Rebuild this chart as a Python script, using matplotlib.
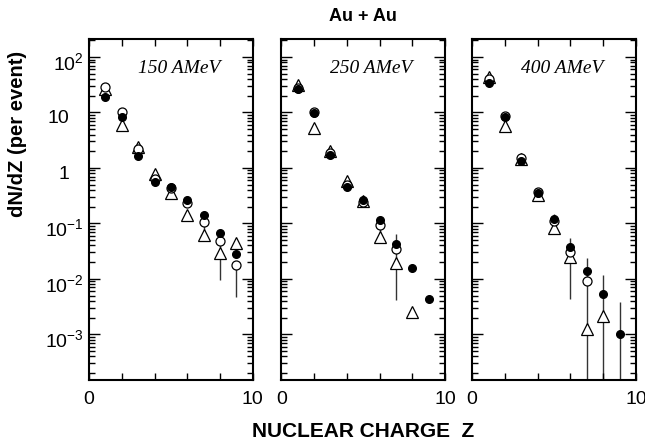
import math
import matplotlib.pyplot as plt
from matplotlib.ticker import FixedLocator, NullFormatter, FuncFormatter
from matplotlib.transforms import ScaledTranslation

plt.rcParams['mathtext.fontset'] = 'custom'
plt.rcParams['mathtext.rm'] = 'Liberation Sans'
plt.rcParams['mathtext.it'] = 'Liberation Sans:italic'
plt.rcParams['mathtext.bf'] = 'Liberation Sans:bold'

# nuclear charge
z = [1, 2, 3, 4, 5, 6, 7, 8, 9]

# 150 AMeV
full_150 = [19, 8.2, 1.65, 0.55, 0.46, 0.265, 0.142, 0.068, 0.028]
open_150 = [29, 10.3, 2.2, 0.62, 0.44, 0.237, 0.108, 0.049, 0.018]
tri_150 = [26, 6.0, 2.36, 0.78, 0.35, 0.142, 0.062, 0.029, 0.045]
bar_150 = [(7, 0.062, 0.108), (8, 0.0095, 0.075), (9, 0.0048, 0.018)]

# 250 AMeV
full_250 = [26, 9.7, 1.7, 0.46, 0.26, 0.116, 0.043, 0.016, 0.0044]
open_250 = [28, 10.0, 1.85, 0.50, 0.24, 0.094, 0.034]
tri_250 = [31, 5.3, 2.0, 0.59, 0.25, 0.057, 0.019, 0.0025]
bar_250 = [(6, 0.057, 0.12), (7, 0.0041, 0.064)]

# 400 AMeV
full_400 = [33.6, 8.2, 1.36, 0.35, 0.119, 0.038, 0.014, 0.0054, 0.001]
open_400 = [40, 8.5, 1.5, 0.37, 0.11, 0.030, 0.0093]
tri_400 = [44, 5.6, 1.45, 0.32, 0.082, 0.025, 0.00126, 0.0021]
bar_400 = [(5, 0.082, 0.15), (6, 0.0044, 0.055), (7, 1e-5, 0.024),
           (8, 1e-5, 0.0117), (9, 1e-5, 0.0038)]

labels = ["150 AMeV", "250 AMeV", "400 AMeV"]
panels = [(full_150, open_150, tri_150, bar_150),
          (full_250, open_250, tri_250, bar_250),
          (full_400, open_400, tri_400, bar_400)]

ymin, ymax = 1.5e-4, 210
decades = [1e-3, 1e-2, 1e-1, 1, 10, 100]
minors = [m * d for d in [1e-4, 1e-3, 1e-2, 1e-1, 1, 10, 100] for m in range(2, 10)]
minors = [m for m in minors if ymin < m < ymax]

fig = plt.figure(figsize=(6.45, 4.45), dpi=100)
lefts = [0.138, 0.436, 0.732]
sans = ["Liberation Sans", "DejaVu Sans"]


def fmt_y(v, pos):
	if abs(v - 1) < 1e-9:
		return "1"
	if abs(v - 10) < 1e-9:
		return "10"
	e = int(round(math.log10(v)))
	return r"$\mathregular{10^{%d}}$" % e


for i, (full, opn, tri, bars) in enumerate(panels):
	ax = fig.add_axes([lefts[i], 0.146, 0.254, 0.766])
	for zz, lo, hi in bars:
		ax.vlines(zz, max(lo, ymin), hi, color="#333333", lw=1.0, zorder=1)
	ax.plot(z[:len(tri)], tri, ls="none", marker="^", ms=8, mfc="white",
			mec="black", mew=0.9, zorder=2)
	ax.plot(z[:len(opn)], opn, ls="none", marker="o", ms=6.5, mfc="white",
			mec="black", mew=0.9, zorder=3)
	ax.plot(z[:len(full)], full, ls="none", marker="o", ms=5.5, mfc="black",
			mec="black", zorder=4)
	ax.set_yscale("log")
	ax.set_xlim(0, 10)
	ax.set_ylim(ymin, ymax)
	ax.xaxis.set_major_locator(FixedLocator([0, 2, 4, 6, 8, 10]))
	ax.xaxis.set_major_formatter(FuncFormatter(lambda v, p: "%d" % v if v in (0, 10) else ""))
	ax.yaxis.set_major_locator(FixedLocator(decades))
	ax.yaxis.set_minor_locator(FixedLocator(minors))
	ax.yaxis.set_minor_formatter(NullFormatter())
	if i == 0:
		ax.yaxis.set_major_formatter(FuncFormatter(fmt_y))
	else:
		ax.yaxis.set_major_formatter(NullFormatter())
	ax.tick_params(which="both", direction="in", top=True, right=True, width=1.0)
	ax.tick_params(which="major", length=8, labelsize=14)
	ax.tick_params(which="minor", length=4.5)
	ax.tick_params(axis="x", which="major", length=5, pad=8)
	ax.tick_params(axis="y", which="major", pad=4)
	for lab in ax.get_xticklabels() + ax.get_yticklabels():
		lab.set_family(sans)
	for s in ax.spines.values():
		s.set_linewidth(1.5)
	if i == 0:
		# 1 and 10 line up with the base of the powers of ten
		shift = ScaledTranslation(-10 / 72, -3 / 72, fig.dpi_scale_trans)
		down = ScaledTranslation(0, -3 / 72, fig.dpi_scale_trans)
		for val, tick in zip(decades, ax.yaxis.get_major_ticks(len(decades))):
			t = tick.label1.get_transform()
			tick.label1.set_transform(t + (shift if val in (1, 10) else down))
	ax.text(0.55, 0.915, labels[i], transform=ax.transAxes, ha="center", va="center",
			family="Liberation Serif", style="italic", fontsize=14)

fig.text(0.563, 0.962, "Au + Au", ha="center", va="center", family=sans,
		 fontweight="bold", fontsize=13)
fig.text(0.563, 0.031, "NUCLEAR CHARGE  Z", ha="center", va="center", family=sans,
		 fontweight="bold", fontsize=15)
fig.text(0.027, 0.70, "dN/dZ (per event)", ha="center", va="center", rotation=90,
		 family=sans, fontweight="bold", fontsize=14.5)

fig.savefig("out.png", dpi=100)
